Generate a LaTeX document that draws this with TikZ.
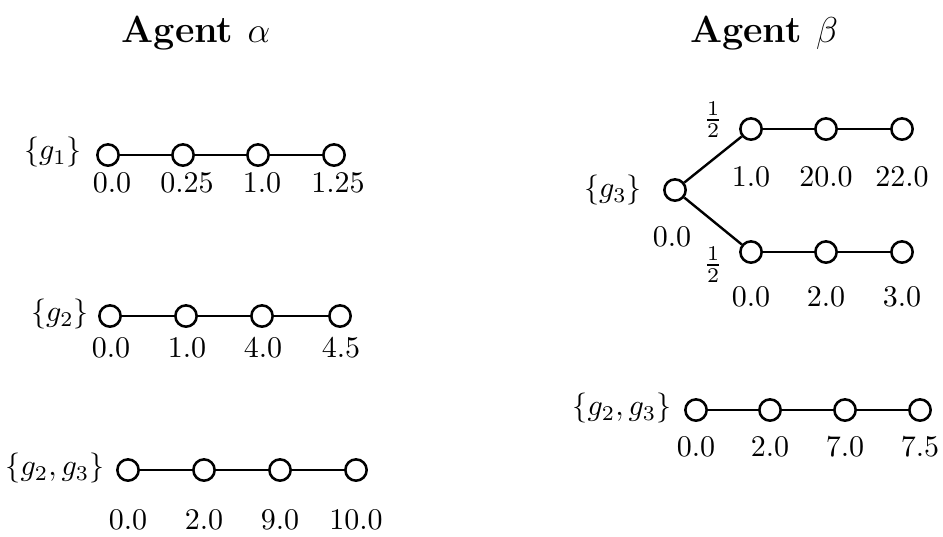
\documentclass[tikz,border=0pt]{standalone}
\begin{document}
\begin{tikzpicture}[x=0.33333pt,y=-0.33333pt,
  st/.style={circle,draw,line width=0.85pt,minimum size=7.1pt,inner sep=0pt,fill=white},
  lbl/.style={inner sep=0pt},
  ttl/.style={inner sep=0pt,font=\fontsize{12.6}{15}\selectfont\bfseries},
  edge/.style={line width=0.8pt}]
\useasboundingbox (0,0) rectangle (943,536);
% titles
\node[ttl] (ta) at (196,33) {Agent $\alpha$};
\node[ttl] (tb) at (764,33) {Agent $\beta$};
% alpha 1
\node[lbl] (a1n) at (53,152) {$\{g_1\}$};
\foreach \i/\x/\v in {1/108/0.0,2/183/0.25,3/258/1.0,4/334/1.25}{
  \node[st] (a1\i) at (\x,155) {};
  \node[lbl] (a1l\i) at (\x+4,183) {$\v$};
}
\draw[edge] (a11) -- (a12); \draw[edge] (a12) -- (a13); \draw[edge] (a13) -- (a14);
% alpha 2
\node[lbl] (a2n) at (60,314) {$\{g_2\}$};
\foreach \i/\x/\v in {1/110/0.0,2/186/1.0,3/262/4.0,4/340/4.5}{
  \node[st] (a2\i) at (\x,316) {};
  \node[lbl] (a2l\i) at (\x+1,348) {$\v$};
}
\draw[edge] (a21) -- (a22); \draw[edge] (a22) -- (a23); \draw[edge] (a23) -- (a24);
% alpha 3
\node[lbl] (a3n) at (55,468) {$\{g_2,g_3\}$};
\foreach \i/\x/\v in {1/128/0.0,2/204/2.0,3/280/9.0,4/356/10.0}{
  \node[st] (a3\i) at (\x,470) {};
  \node[lbl] (a3l\i) at (\x,520) {$\v$};
}
\draw[edge] (a31) -- (a32); \draw[edge] (a32) -- (a33); \draw[edge] (a33) -- (a34);
% beta 1
\node[lbl] (b1n) at (613,190) {$\{g_3\}$};
\node[st] (r) at (675,190) {};
\node[lbl] (rl) at (672,237) {$0.0$};
\foreach \i/\x/\v/\w in {1/751/1.0/0.0,2/826/20.0/2.0,3/902/22.0/3.0}{
  \node[st] (u\i) at (\x,129) {};
  \node[lbl] (ul\i) at (\x,177) {$\v$};
  \node[st] (d\i) at (\x,252) {};
  \node[lbl] (dl\i) at (\x,297) {$\w$};
}
\node[lbl] (fu) at (713,120) {$\frac{1}{2}$};
\node[lbl] (fd) at (713,265) {$\frac{1}{2}$};
\draw[edge] (r) -- (u1); \draw[edge] (r) -- (d1);
\draw[edge] (u1) -- (u2); \draw[edge] (u2) -- (u3);
\draw[edge] (d1) -- (d2); \draw[edge] (d2) -- (d3);
% beta 2
\node[lbl] (b2n) at (622,408) {$\{g_2,g_3\}$};
\foreach \i/\x/\v in {1/696/0.0,2/770/2.0,3/845/7.0,4/920/7.5}{
  \node[st] (b2\i) at (\x,410) {};
  \node[lbl] (b2l\i) at (\x,447) {$\v$};
}
\draw[edge] (b21) -- (b22); \draw[edge] (b22) -- (b23); \draw[edge] (b23) -- (b24);
\end{tikzpicture}
\end{document}
